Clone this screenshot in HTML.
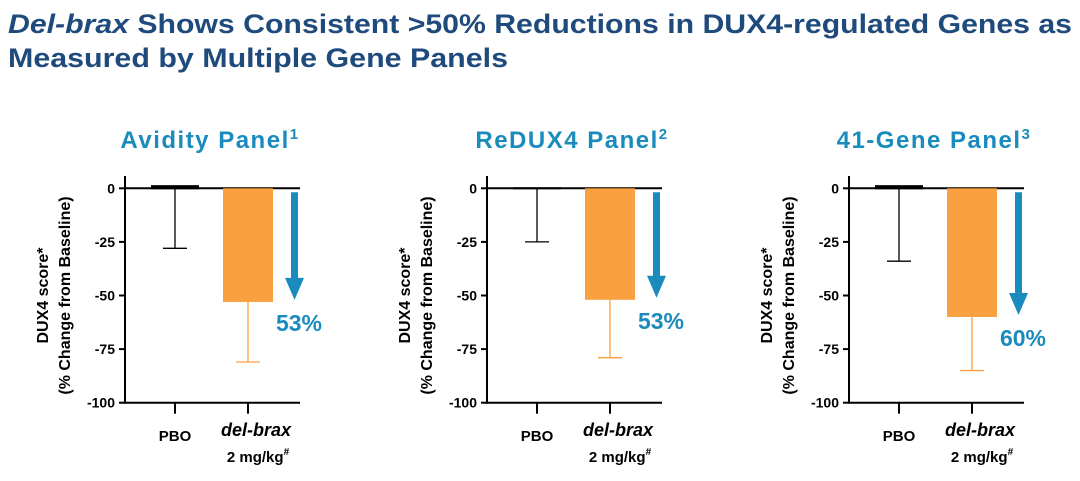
<!DOCTYPE html>
<html><head><meta charset="utf-8"><style>
html,body{margin:0;padding:0;background:#fff;}
svg{display:block;font-family:"Liberation Sans",sans-serif;}
</style></head><body>
<svg id="chart" width="1080" height="481" viewBox="0 0 1080 481">
<text x="8" y="33" font-size="27" font-weight="bold" fill="#1f4a7c" textLength="1064" lengthAdjust="spacingAndGlyphs"><tspan font-style="italic">Del-brax</tspan> Shows Consistent &gt;50% Reductions in DUX4-regulated Genes as</text>
<text x="8" y="67" font-size="27" font-weight="bold" fill="#1f4a7c" textLength="500" lengthAdjust="spacingAndGlyphs">Measured by Multiple Gene Panels</text>
<g id="panels"></g>
</svg>
<script>
const panelTitles = ["Avidity Panel", "ReDUX4 Panel", "41-Gene Panel"];
const panelSups = ["1", "2", "3"];
const categories = ["PBO", "del-brax"];
const pboValues = [1, 0, 1];
const pboErrors = [-28, -25, -34];
const drugValues = [-53, -52, -60];
const drugErrors = [-81, -79, -85];
const reductionLabels = ["53%", "53%", "60%"];
const yTicks = [0, -25, -50, -75, -100];

const NS = "http://www.w3.org/2000/svg";
const root = document.getElementById("panels");
function mk(tag, attrs, parent, text) {
  const e = document.createElementNS(NS, tag);
  for (const k in attrs) e.setAttribute(k, attrs[k]);
  if (text !== undefined) e.textContent = text;
  parent.appendChild(e);
  return e;
}
const offsets = [0, 362, 724];
const y = v => 188.3 + (-v) * 2.144;
for (let p = 0; p < 3; p++) {
  const ox = offsets[p];
  const g = mk("g", {transform: "translate(" + ox + ",0)"}, root);
  
  
  const axX = 125, pboX = 175, drugX = 248;
  const t = mk("text", {x: 210, y: 148, "font-size": 24, "font-weight": "bold", fill: "#1a8bbd", "text-anchor": "middle", "letter-spacing": "1.5"}, g, panelTitles[p]);
  
  
  mk("tspan", {"font-size": 15, dy: -9}, t, panelSups[p]);
  const ya = mk("line", {x1: axX, x2: axX, y1: 176, y2: y(-100) + 1, stroke: "#000", "stroke-width": 2}, g);
  
  
  const zl = mk("line", {x1: axX, x2: 300, y1: y(0), y2: y(0), stroke: "#000", "stroke-width": 2}, g);
  
  
  const xa = mk("line", {x1: axX, x2: 300, y1: y(-100), y2: y(-100), stroke: "#000", "stroke-width": 2}, g);
  
  
  yTicks.forEach(v => {
    mk("line", {x1: axX - 6, x2: axX, y1: y(v), y2: y(v), stroke: "#000", "stroke-width": 2}, g);
    const tl = mk("text", {x: axX - 10, y: y(v) + 5, "font-size": 14, "font-weight": "bold", "text-anchor": "end"}, g, String(v));
    
    
  });
  [pboX, drugX].forEach(cx => mk("line", {x1: cx, x2: cx, y1: y(-100), y2: y(-100) + 11, stroke: "#000", "stroke-width": 2}, g));
  const yt = mk("text", {transform: "translate(48," + (y(-50)) + ") rotate(-90)", "font-size": 16, "font-weight": "bold", "text-anchor": "middle"}, g);
  
  
  mk("tspan", {x: 0, y: 0}, yt, "DUX4 score*");
  mk("tspan", {x: 0, y: 22}, yt, "(% Change from Baseline)");
  const pe = mk("path", {d: `M${pboX},${y(pboValues[p])}V${y(pboErrors[p])}M${pboX - 12},${y(pboErrors[p])}H${pboX + 12}`, stroke: "#000", "stroke-width": 1.3, fill: "none"}, g);
  
  
  const pb = mk("rect", {x: pboX - 24, y: Math.min(y(pboValues[p]), y(0)) - 1, width: 48, height: Math.abs(y(pboValues[p]) - y(0)) + 2, fill: "#000"}, g);
  
  
  const de = mk("path", {d: `M${drugX},${y(drugValues[p])}V${y(drugErrors[p])}M${drugX - 12},${y(drugErrors[p])}H${drugX + 12}`, stroke: "#f9a040", "stroke-width": 1.3, fill: "none"}, g);
  
  
  const db = mk("rect", {x: drugX - 25, y: y(0), width: 50, height: y(drugValues[p]) - y(0), fill: "#f9a040"}, g);
  
  
  const tip = y(drugValues[p]) - 2;
  const ar = mk("path", {d: `M291,${y(0) + 4}H298V${tip - 22}H304L294.5,${tip}L285,${tip - 22}H291Z`, fill: "#1a8bbd"}, g);
  
  
  const rl = mk("text", {x: 299, y: tip + 31, "font-size": 23, "font-weight": "bold", fill: "#1a8bbd", "text-anchor": "middle"}, g, reductionLabels[p]);
  
  
  const c1 = mk("text", {x: pboX, y: 441, "font-size": 15, "font-weight": "bold", "text-anchor": "middle"}, g, categories[0]);
  
  
  const c2 = mk("text", {x: drugX + 8, y: 436, "font-size": 18, "font-weight": "bold", "font-style": "italic", "text-anchor": "middle"}, g, categories[1]);
  
  
  const c3 = mk("text", {x: drugX + 10, y: 462, "font-size": 15, "font-weight": "bold", "text-anchor": "middle"}, g);
  
  
  mk("tspan", {}, c3, "2 mg/kg");
  mk("tspan", {"font-size": 10, dy: -7}, c3, "#");
}
</script>
</body></html>
